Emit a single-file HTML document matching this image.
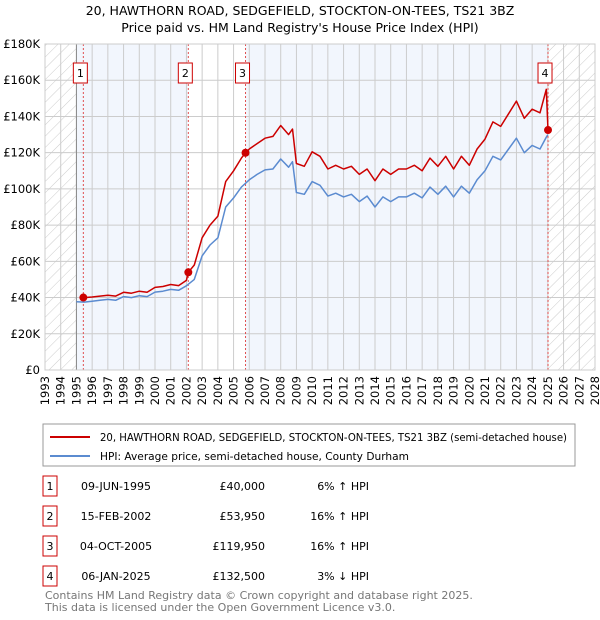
<!DOCTYPE html>
<html><head><meta charset="utf-8"><style>
body{margin:0;background:#fff;font-family:"Liberation Sans","DejaVu Sans",sans-serif;}
#wrap{position:relative;width:600px;height:620px;overflow:hidden;}
</style></head><body>
<div id="wrap">
<svg id="chart" width="600" height="620" xmlns="http://www.w3.org/2000/svg" font-family="DejaVu Sans, Liberation Sans, sans-serif">
<defs><pattern id="hatch" width="8" height="8" patternUnits="userSpaceOnUse" patternTransform="rotate(45)"><line x1="0" y1="0" x2="0" y2="8" stroke="#ccc" stroke-width="1"/></pattern></defs>
<text x="300" y="15" text-anchor="middle" font-size="12.5">20, HAWTHORN ROAD, SEDGEFIELD, STOCKTON-ON-TEES, TS21 3BZ</text>
<text x="300" y="32" text-anchor="middle" font-size="12.5">Price paid vs. HM Land Registry's House Price Index (HPI)</text>
<g id="plot"></g>
<g>
<rect x="43" y="424" width="532" height="42" fill="#fff" stroke="#999"/>
<line x1="50" y1="437" x2="90" y2="437" stroke="#cc0000" stroke-width="2"/>
<text x="100" y="441" font-size="10.6" textLength="467" lengthAdjust="spacingAndGlyphs">20, HAWTHORN ROAD, SEDGEFIELD, STOCKTON-ON-TEES, TS21 3BZ (semi-detached house)</text>
<line x1="50" y1="456" x2="90" y2="456" stroke="#5b8bd0" stroke-width="2"/>
<text x="100" y="460" font-size="10.6">HPI: Average price, semi-detached house, County Durham</text>
</g>
<g id="table" font-size="11"></g>
<text x="45" y="599" font-size="11" fill="#777">Contains HM Land Registry data © Crown copyright and database right 2025.</text>
<text x="45" y="611" font-size="11" fill="#777">This data is licensed under the Open Government Licence v3.0.</text>
</svg>
</div>
<script>
const hpiYears=[1995,1995.5,1996,1996.5,1997,1997.5,1998,1998.5,1999,1999.5,2000,2000.5,2001,2001.5,2002,2002.5,2003,2003.5,2004,2004.5,2005,2005.5,2006,2006.5,2007,2007.5,2008,2008.5,2008.75,2009,2009.5,2010,2010.5,2011,2011.5,2012,2012.5,2013,2013.5,2014,2014.5,2015,2015.5,2016,2016.5,2017,2017.5,2018,2018.5,2019,2019.5,2020,2020.5,2021,2021.5,2022,2022.5,2023,2023.5,2024,2024.5,2024.9,2025];
const hpiValues=[37.7,37.5,38,38.5,39,38.5,40.5,40,41,40.5,43,43.5,44.5,44,46.5,50,63,69,73,90,95,101,105,108,110.5,111,116.5,112,115,98,97,104,102,96,97.6,95.6,97,93,96,90,95.6,93,95.6,95.6,97.6,95,101,97,101.5,95.6,101.5,97.6,105,110,118,116,122,128,120,124,122,128.6,130];
const propYears=[1995.44,1995.5,1996,1996.5,1997,1997.5,1998,1998.5,1999,1999.5,2000,2000.5,2001,2001.5,2002,2002.12,2002.5,2003,2003.5,2004,2004.5,2005,2005.5,2005.76,2006,2006.5,2007,2007.5,2008,2008.5,2008.75,2009,2009.5,2010,2010.5,2011,2011.5,2012,2012.5,2013,2013.5,2014,2014.5,2015,2015.5,2016,2016.5,2017,2017.5,2018,2018.5,2019,2019.5,2020,2020.5,2021,2021.5,2022,2022.5,2023,2023.5,2024,2024.5,2024.9,2025.01];
const propValues=[40,40,40.3,40.8,41.3,40.8,42.9,42.4,43.5,42.9,45.6,46.1,47.2,46.6,49.5,53.95,58,73,80,85,104,110,117,119.95,122,125,128,129,135,130,133,114,112.5,120.5,118,111,113,111,112.5,108,111,104.5,111,108,111,111,113,110,117,112.5,118,111,118,113,122,127.5,137,134.5,141.5,148.5,139,144,142,155,132.5];
const saleLabels=["1","2","3","4"];
const saleYears=[1995.44,2002.12,2005.76,2025.01];
const saleValues=[40,53.95,119.95,132.5];
const saleDates=["09-JUN-1995","15-FEB-2002","04-OCT-2005","06-JAN-2025"];
const salePrices=["£40,000","£53,950","£119,950","£132,500"];
const saleDiffs=["6% ↑ HPI","16% ↑ HPI","16% ↑ HPI","3% ↓ HPI"];
const yTicks=[0,20,40,60,80,100,120,140,160,180];
const yTickLabels=["£0","£20K","£40K","£60K","£80K","£100K","£120K","£140K","£160K","£180K"];
const xMin=1993,xMax=2028,yMax=180;
const L=45,R=595,T=44,B=370;
const X=v=>L+(v-xMin)/(xMax-xMin)*(R-L);
const Y=v=>B-v/yMax*(B-T);
const NS="http://www.w3.org/2000/svg";
const plot=document.getElementById('plot');
function mk(tag,attrs,parent){const e=document.createElementNS(NS,tag);for(const k in attrs)e.setAttribute(k,attrs[k]);(parent||plot).appendChild(e);return e;}
let e;
e=mk('rect',{x:L,y:T,width:R-L,height:B-T,fill:'#fff'});


e=mk('rect',{x:X(1995),y:T,width:X(2002.12)-X(1995),height:B-T,fill:'#f2f6fd'});


e=mk('rect',{x:X(2005.76),y:T,width:X(2025.01)-X(2005.76),height:B-T,fill:'#f2f6fd'});


e=mk('rect',{x:L,y:T,width:X(1995)-L,height:B-T,fill:'url(#hatch)'});


e=mk('rect',{x:X(2025.01),y:T,width:R-X(2025.01),height:B-T,fill:'url(#hatch)'});


for(let yr=xMin;yr<=xMax;yr++){
 e=mk('line',{x1:X(yr),x2:X(yr),y1:T,y2:B,stroke:'#ccc','stroke-width':1});
 
 
 e=mk('text',{transform:`translate(${X(yr)+4},${B+6}) rotate(-90)`,'text-anchor':'end','font-size':'11.5'});
 e.textContent=String(yr);
 
 
}
yTicks.forEach((v,i)=>{
 e=mk('line',{x1:L,x2:R,y1:Y(v),y2:Y(v),stroke:'#ccc','stroke-width':1});
 
 
 e=mk('text',{x:L-5,y:Y(v)+4,'text-anchor':'end','font-size':'11.5'});
 e.textContent=yTickLabels[i];
 
 
});
e=mk('line',{x1:X(1995),x2:X(1995),y1:T,y2:B,stroke:'#888','stroke-width':1});


saleYears.forEach((yr,i)=>{
 e=mk('line',{x1:X(yr),x2:X(yr),y1:T,y2:B,stroke:'#e05050','stroke-width':1,'stroke-dasharray':'2,2'});
 
 
});
function path(xs,vs){return xs.map((x,i)=>(i?'L':'M')+X(x).toFixed(1)+','+Y(vs[i]).toFixed(1)).join(' ');}
e=mk('path',{d:path(hpiYears,hpiValues),fill:'none',stroke:'#5b8bd0','stroke-width':1.5,'stroke-linejoin':'round'});


e=mk('path',{d:path(propYears,propValues),fill:'none',stroke:'#cc0000','stroke-width':1.5,'stroke-linejoin':'round'});


saleYears.forEach((yr,i)=>{
 e=mk('circle',{cx:X(yr),cy:Y(saleValues[i]),r:4,fill:'#cc0000'});
 
 
 const bx=X(yr)-3;
 e=mk('rect',{x:bx-7,y:63,width:14,height:20,fill:'#fff',stroke:'#cc0000'});
 
 
 e=mk('text',{x:bx,y:77,'text-anchor':'middle','font-size':'11'});
 e.textContent=saleLabels[i];
 
 
});
e=mk('rect',{x:L,y:T,width:R-L,height:B-T,fill:'none',stroke:'#ccc'});


const tbl=document.getElementById('table');
const rowY=[487,517,547,577];
saleLabels.forEach((lab,i)=>{
 const y=rowY[i];
 e=mk('rect',{x:43,y:y-11,width:14,height:20,fill:'#fff',stroke:'#cc0000'},tbl);
 
 
 e=mk('text',{x:50,y:y+3,'text-anchor':'middle'},tbl);
 e.textContent=lab;
 
 
 e=mk('text',{x:116,y:y+3,'text-anchor':'middle'},tbl);
 e.textContent=saleDates[i];
 
 
 e=mk('text',{x:265,y:y+3,'text-anchor':'end'},tbl);
 e.textContent=salePrices[i];
 
 
 e=mk('text',{x:369,y:y+3,'text-anchor':'end'},tbl);
 e.textContent=saleDiffs[i];
 
 
});
</script>
</body></html>
